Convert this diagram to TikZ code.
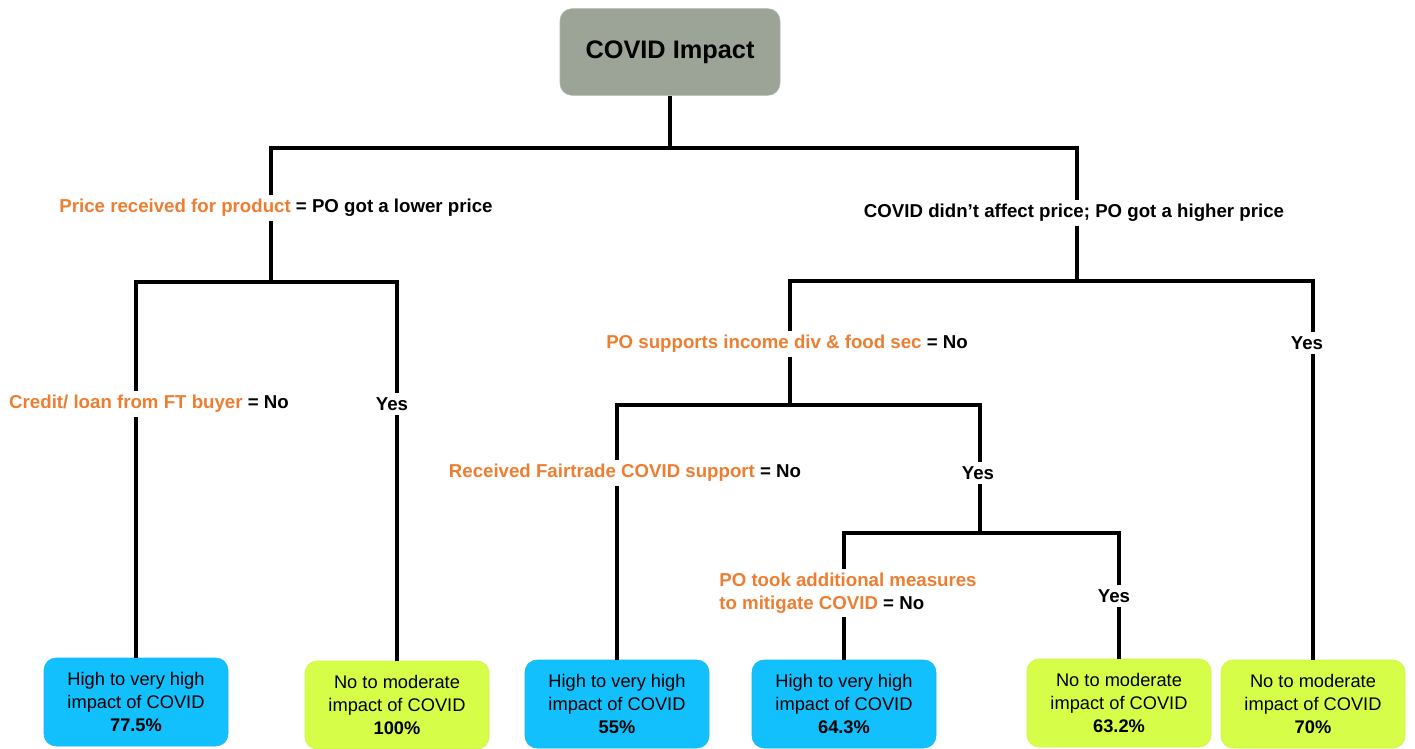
\documentclass[tikz,border=0pt]{standalone}
\usepackage{fontspec}
\setmainfont{Liberation Sans}
\usepackage{xcolor}
\definecolor{rootgray}{RGB}{156,163,151}
\definecolor{hiblue}{RGB}{18,192,253}
\definecolor{logreen}{RGB}{214,254,72}
\definecolor{condorange}{RGB}{237,125,49}
\usepackage{tikz}
\usetikzlibrary{positioning,calc}
\tikzset{
  rootnode/.style={rectangle,rounded corners=9pt,fill=rootgray,draw=rootgray!80,
                   align=center,minimum height=65pt,minimum width=165pt,
                   font=\fontsize{19}{23}\selectfont\bfseries},
  hinode/.style  ={rectangle,rounded corners=9pt,fill=hiblue,draw=hiblue!90!black!40!hiblue,
                   align=center,minimum height=66pt,minimum width=138pt,
                   font=\fontsize{13.7}{17}\selectfont},
  lonode/.style  ={rectangle,rounded corners=9pt,fill=logreen,draw=logreen!90!black!40!logreen,
                   align=center,minimum height=66pt,minimum width=138pt,
                   font=\fontsize{13.7}{17}\selectfont},
  cond/.style    ={inner sep=3pt,font=\fontsize{14}{17}\selectfont\bfseries},
  edge/.style    ={line width=2.8pt,draw=black,line join=miter},
}

\begin{document}
\begin{tikzpicture}[x=0.75pt,y=-0.75pt]
  \useasboundingbox (0,0) rectangle (1415,749);
  \node[rootnode] (root) at (670,52) {COVID Impact};
  \coordinate (a1) at (271,148);
  \coordinate (a2) at (1077,148);
  \coordinate (b1) at (136,282);
  \coordinate (b2) at (397,282);
  \coordinate (c1) at (790,281);
  \coordinate (c2) at (1313,281);
  \coordinate (d1) at (617,405);
  \coordinate (d2) at (980,405);
  \coordinate (e1) at (844,533);
  \coordinate (e2) at (1119,533);
  \node[cond] (price) at (276,208) {\textcolor{condorange}{Price received for product} = PO got a lower price};
  \node[cond] (other) at (1074,213) {COVID didn’t affect price; PO got a higher price};
  \node[cond] (credit) at (149,404) {\textcolor{condorange}{Credit/ loan from FT buyer} = No};
  \node[cond] (yesA) at (392,404) {Yes};
  \node[cond] (income) at (787,344) {\textcolor{condorange}{PO supports income div \& food sec} = No};
  \node[cond] (yesB) at (1307,343) {Yes};
  \node[cond] (fair) at (625,473) {\textcolor{condorange}{Received Fairtrade COVID support} = No};
  \node[cond] (yesC) at (978,473) {Yes};
  \node[cond,align=left] (measures) at (848,593) {\textcolor{condorange}{PO took additional measures}\\\textcolor{condorange}{to mitigate COVID} = No};
  \node[cond] (yesD) at (1114,596) {Yes};
  \node[hinode] (hi1) at (136,702) {High to very high\\impact of COVID\\\textbf{77.5\%}};
  \node[lonode] (lo1) at (397,705) {No to moderate\\impact of COVID\\\textbf{100\%}};
  \node[hinode] (hi2) at (617,704) {High to very high\\impact of COVID\\\textbf{55\%}};
  \node[hinode] (hi3) at (844,704) {High to very high\\impact of COVID\\\textbf{64.3\%}};
  \node[lonode] (lo2) at (1119,703) {No to moderate\\impact of COVID\\\textbf{63.2\%}};
  \node[lonode] (lo3) at (1313,704) {No to moderate\\impact of COVID\\\textbf{70\%}};
  \draw[edge] (root) -- (root |- a1);
  \draw[edge] (a1 |- price.north) -- (a1) -- (a2) -- (a2 |- other.north);
  \draw[edge] (a1 |- price.south) -- (a1 |- b1);
  \draw[edge] (b1 |- credit.north) -- (b1) -- (b2) -- (b2 |- yesA.north);
  \draw[edge] (b1 |- credit.south) -- (hi1);
  \draw[edge] (b2 |- yesA.south) -- (lo1);
  \draw[edge] (a2 |- other.south) -- (a2 |- c1);
  \draw[edge] (c1 |- income.north) -- (c1) -- (c2) -- (c2 |- yesB.north);
  \draw[edge] (c2 |- yesB.south) -- (lo3);
  \draw[edge] (c1 |- income.south) -- (c1 |- d1);
  \draw[edge] (d1 |- fair.north) -- (d1) -- (d2) -- (d2 |- yesC.north);
  \draw[edge] (d1 |- fair.south) -- (hi2);
  \draw[edge] (d2 |- yesC.south) -- (d2 |- e1);
  \draw[edge] (e1 |- measures.north) -- (e1) -- (e2) -- (e2 |- yesD.north);
  \draw[edge] (e1 |- measures.south) -- (hi3);
  \draw[edge] (e2 |- yesD.south) -- (lo2);
\end{tikzpicture}
\end{document}
